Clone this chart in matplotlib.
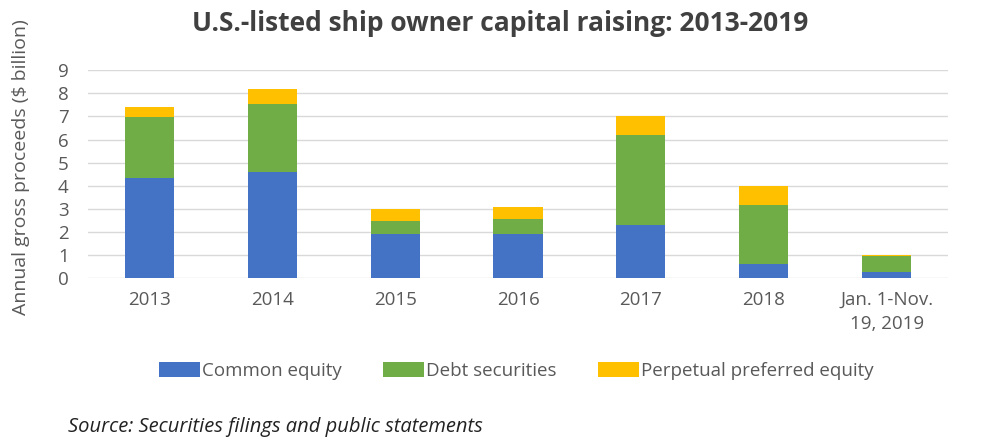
import matplotlib
matplotlib.use("Agg")
import matplotlib.pyplot as plt
import numpy as np

categories = ["2013", "2014", "2015", "2016", "2017", "2018", "Jan. 1-Nov.\n19, 2019"]
common_equity = [4.32, 4.59, 1.91, 1.93, 2.29, 0.63, 0.26]
debt_securities = [2.66, 2.93, 0.57, 0.63, 3.91, 2.53, 0.73]
perpetual_preferred = [0.41, 0.64, 0.51, 0.53, 0.80, 0.85, 0.02]
series_names = ["Common equity", "Debt securities", "Perpetual preferred equity"]
yticks = list(range(0, 10))

colors = ["#4472C4", "#70AD47", "#FFC000"]
text_color = "#595959"

plt.rcParams['font.family'] = ['Open Sans', 'DejaVu Sans']

fig = plt.figure(figsize=(10, 4.46), dpi=100)
ax = fig.add_axes([0.088, 0.3756, 0.86, 0.4674])

x = np.arange(len(categories))
bottom = np.zeros(len(categories))
for vals, name, c in zip([common_equity, debt_securities, perpetual_preferred], series_names, colors):
    ax.bar(x, vals, width=0.4, bottom=bottom, color=c, label=name, zorder=3)
    bottom += np.array(vals)

ax.set_xlim(-0.5, len(categories) - 0.5)
ax.set_ylim(0, 9)
ax.set_yticks(yticks)
ax.set_yticklabels([str(t) for t in yticks], fontsize=13.5, color=text_color)
ax.set_xticks(x)
ax.set_xticklabels(categories, fontsize=13.5, color=text_color, linespacing=1.45)
ax.tick_params(axis='both', length=0)
ax.tick_params(axis='x', pad=9)
ax.tick_params(axis='y', pad=14)
ax.grid(axis='y', color="#D9D9D9", linewidth=1, zorder=0)
for s in ax.spines.values():
    s.set_visible(False)

fig.text(0.021, 0.625, "Annual gross proceeds ($ billion)", rotation=90, ha='center', va='center',
         fontsize=14, color=text_color)
fig.text(0.5, 0.948, "U.S.-listed ship owner capital raising: 2013-2019", ha='center', va='center',
         fontsize=19, fontweight='bold', color="#404040")

handles, labels = ax.get_legend_handles_labels()
fig.legend(handles, labels, loc='center', bbox_to_anchor=(0.516, 0.168), ncol=3, frameon=False,
           fontsize=13.5, handlelength=2.2, handleheight=0.8, handletextpad=0.1, columnspacing=2.2,
           labelcolor=text_color)

fig.text(0.068, 0.042, "Source: Securities filings and public statements", ha='left', va='center',
         fontsize=14.5, style='italic', color="#222222")

fig.savefig("out.png", dpi=100)
